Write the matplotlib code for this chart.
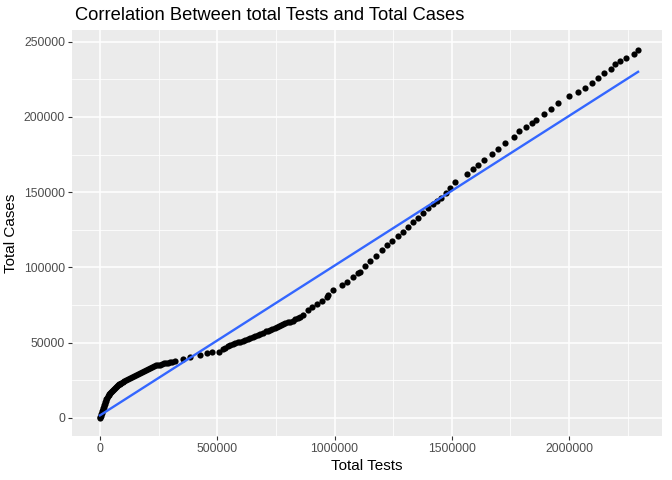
import numpy as np
import matplotlib
matplotlib.use("Agg")
import matplotlib.pyplot as plt
from matplotlib.ticker import FixedLocator

plt.rcParams['font.family'] = ['Liberation Sans', 'DejaVu Sans']

total_tests = [0, 2e3, 4e3, 6e3, 8.5e3, 11e3, 13e3, 15e3, 17e3, 19e3, 21e3, 23.5e3, 26e3, 28e3, 30e3, 34e3,
               38e3, 40.5e3, 43e3, 47e3, 51e3, 55.5e3, 60e3, 64e3, 68e3, 72.5e3, 77e3, 81e3, 85e3, 91e3,
               98e3, 104e3, 111e3, 119e3, 128e3, 136e3, 145e3, 153e3, 162e3, 170e3, 179e3, 187e3, 196e3,
               204e3, 213e3, 221e3, 230e3, 238e3, 247e3, 255e3, 264e3, 272e3, 281e3, 289e3, 298e3, 309e3,
               320e3, 354e3, 384e3, 426e3, 456e3, 478e3, 507e3, 524e3, 535e3, 546e3, 556e3, 567e3, 577e3,
               588e3, 599e3, 610e3, 620e3, 631e3, 641e3, 652e3, 663e3, 674e3, 684e3, 695e3, 708e3, 716e3,
               725e3, 735e3, 746e3, 754e3, 763e3, 771e3, 780e3, 791e3, 802e3, 812e3, 823e3, 833e3, 844e3,
               855e3, 866e3, 887e3, 904e3, 925e3, 947e3, 968e3, 972e3, 994e3, 1032e3, 1053e3, 1079e3,
               1100e3, 1109e3, 1130e3, 1151e3, 1177e3, 1202e3, 1224e3, 1245e3, 1271e3, 1292e3, 1313e3,
               1335e3, 1356e3, 1377e3, 1399e3, 1420e3, 1437e3, 1454e3, 1475e3, 1492e3, 1514e3, 1565e3,
               1590e3, 1612e3, 1637e3, 1672e3, 1697e3, 1727e3, 1765e3, 1787e3, 1816e3, 1842e3, 1859e3,
               1893e3, 1923e3, 1953e3, 2000e3, 2038e3, 2068e3, 2098e3, 2123e3, 2149e3, 2179e3, 2196e3,
               2217e3, 2243e3, 2277e3, 2294e3]
total_cases = [0, 0.6e3, 1.3e3, 2.3e3, 3.3e3, 4.3e3, 5.3e3, 6.3e3, 7.3e3, 8.3e3, 9.3e3, 10.3e3, 11.3e3, 12.3e3, 13.3e3, 14.3e3,
               15.3e3, 16e3, 16.6e3, 17.3e3, 18e3, 18.6e3, 19.3e3, 20e3, 20.6e3, 21.3e3, 22e3, 22.3e3, 22.6e3, 23.3e3,
               24e3, 24.6e3, 25.3e3, 26e3, 26.6e3, 27.2e3, 27.9e3, 28.5e3, 29.2e3, 29.9e3, 30.6e3, 31.2e3, 31.9e3,
               32.5e3, 33.2e3, 33.9e3, 34.6e3, 34.9e3, 35.2e3, 35.5e3, 35.9e3, 36.2e3, 36.5e3, 36.8e3, 37.2e3, 37.5e3,
               37.9e3, 39.2e3, 40.5e3, 41.9e3, 43.2e3, 43.9e3, 43.9e3, 45.8e3, 46.8e3, 47.8e3, 48.5e3, 49.2e3, 49.7e3,
               50.2e3, 50.7e3, 51.2e3, 51.8e3, 52.5e3, 53.1e3, 53.8e3, 54.5e3, 55.2e3, 55.8e3, 56.5e3, 57.5e3, 58e3,
               58.5e3, 59.1e3, 59.8e3, 60.4e3, 61.1e3, 61.8e3, 62.5e3, 63e3, 63.5e3, 64e3, 64.5e3, 65.5e3, 66.5e3,
               67.4e3, 68.4e3, 71.8e3, 73.8e3, 75.8e3, 77.7e3, 80.4e3, 81.7e3, 85.1e3, 88.4e3, 90.4e3, 93.7e3,
               96.4e3, 97.0e3, 101.0e3, 104.3e3, 107.7e3, 111.6e3, 115.0e3, 117.6e3, 120.9e3, 123.6e3, 126.9e3,
               130.2e3, 132.9e3, 136.2e3, 139.5e3, 142.2e3, 144.2e3, 146.2e3, 149.5e3, 152.8e3, 156.8e3, 162.1e3,
               165.5e3, 168.1e3, 171.4e3, 175.4e3, 178.8e3, 182.7e3, 186.7e3, 190.7e3, 193.4e3, 196.0e3, 198.0e3,
               202.0e3, 205.3e3, 209.3e3, 214.0e3, 216.6e3, 219.3e3, 222.6e3, 225.9e3, 229.3e3, 231.9e3, 235.2e3,
               237.2e3, 239.2e3, 241.9e3, 244.5e3]

x_ticks = [0, 500000, 1000000, 1500000, 2000000]
y_ticks = [0, 50000, 100000, 150000, 200000, 250000]

x = np.array(total_tests)
y = np.array(total_cases)

fig = plt.figure(figsize=(6.72, 4.8), dpi=100)
ax = fig.add_axes([72/672, 1-436/480, 590/672, 406/480])
ax.set_facecolor('#EBEBEB')
for s in ax.spines.values():
    s.set_visible(False)

ax.set_xlim(-119000, 2396000)
ax.set_ylim(-12000, 257800)

ax.xaxis.set_major_locator(FixedLocator(x_ticks))
ax.yaxis.set_major_locator(FixedLocator(y_ticks))
ax.xaxis.set_minor_locator(FixedLocator([250000, 750000, 1250000, 1750000, 2250000]))
ax.yaxis.set_minor_locator(FixedLocator([25000, 75000, 125000, 175000, 225000]))
ax.grid(which='major', color='white', linewidth=1.1)
ax.grid(which='minor', color='white', linewidth=0.55)
ax.set_axisbelow(True)
ax.set_xticklabels([str(v) for v in x_ticks])
ax.set_yticklabels([str(v) for v in y_ticks])
ax.tick_params(which='major', length=3, width=0.8, color='#333333', labelcolor='#4D4D4D', labelsize=8.8, pad=2)
ax.tick_params(which='minor', length=0)

ax.scatter(x, y, s=20, color='black', zorder=3, linewidths=0)
b, a = np.polyfit(x, y, 1)
xs = np.array([x.min(), x.max()])
ax.plot(xs, a + b*xs, color='#3366FF', linewidth=1.7, zorder=4)

ax.set_xlabel('Total Tests', fontsize=11, color='black', labelpad=3)
ax.set_ylabel('Total Cases', fontsize=11, color='black', labelpad=4)
fig.text(75/672, 1-16/480, 'Correlation Between total Tests and Total Cases', fontsize=13.2,
         ha='left', va='center', color='black')

fig.savefig('out.png', dpi=100)
